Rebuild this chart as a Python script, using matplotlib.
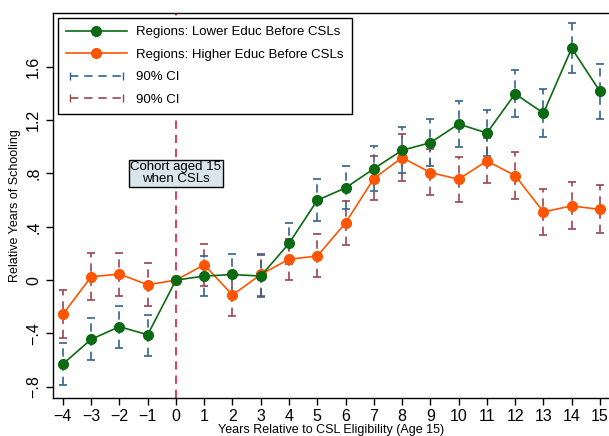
import matplotlib
matplotlib.use("Agg")
import matplotlib.pyplot as plt
from matplotlib.lines import Line2D
from matplotlib.legend_handler import HandlerLine2D
import numpy as np

plt.rcParams['font.family'] = ['Liberation Sans', 'DejaVu Sans']

years = list(range(-4, 16))

# regions with lower education before the laws
low_est = [-0.63, -0.444, -0.35, -0.41, 0.0, 0.03, 0.042, 0.03, 0.275, 0.599,
           0.692, 0.836, 0.974, 1.031, 1.171, 1.104, 1.398, 1.253, 1.740, 1.416]
low_hi = [-0.47, -0.287, -0.195, -0.262, 0.0, 0.18, 0.195, 0.19, 0.43, 0.757,
          0.856, 1.004, 1.146, 1.206, 1.343, 1.278, 1.573, 1.431, 1.927, 1.623]
low_lo = [-0.79, -0.60, -0.507, -0.567, 0.0, -0.122, -0.11, -0.13, 0.12, 0.442,
          0.53, 0.669, 0.804, 0.859, 0.999, 0.931, 1.226, 1.076, 1.556, 1.211]

# regions with higher education before the laws
high_est = [-0.257, 0.025, 0.045, -0.035, 0.0, 0.115, -0.112, 0.042, 0.157, 0.18,
            0.429, 0.762, 0.919, 0.807, 0.757, 0.894, 0.784, 0.512, 0.557, 0.53]
high_hi = [-0.075, 0.2, 0.207, 0.125, 0.0, 0.27, 0.05, 0.195, 0.31, 0.345,
           0.592, 0.931, 1.094, 0.981, 0.924, 1.066, 0.959, 0.687, 0.736, 0.712]
high_lo = [-0.437, -0.15, -0.122, -0.195, 0.0, -0.043, -0.27, -0.122, 0.0, 0.025,
           0.262, 0.599, 0.744, 0.637, 0.587, 0.729, 0.607, 0.337, 0.38, 0.35]

ytick_vals = [-0.8, -0.4, 0, 0.4, 0.8, 1.2, 1.6]
ytick_labels = ['\u2212.8', '\u2212.4', '0', '.4', '.8', '1.2', '1.6']

green = '#0b6a12'
orange = '#ff5500'
ci_blue = '#35628c'
ci_red = '#9c4450'

fig = plt.figure(figsize=(6.09, 4.36), dpi=100)
ax = fig.add_axes([0.087, 0.088, 0.913, 0.883])


def draw_ci(est, lo, hi, color):
    est = np.array(est)
    err = [est - np.array(lo), np.array(hi) - est]
    mask = np.array(years) != 0
    eb = ax.errorbar(np.array(years)[mask], est[mask],
                     yerr=[err[0][mask], err[1][mask]],
                     fmt='none', ecolor=color, elinewidth=1.2,
                     capsize=3, capthick=1.2, zorder=2)
    eb[2][0].set_linestyle((0, (5, 3.5)))


draw_ci(high_est, high_lo, high_hi, ci_red)
draw_ci(low_est, low_lo, low_hi, ci_blue)

ax.plot(years, high_est, color=orange, marker='o', markersize=7, lw=1.2, zorder=3)
ax.plot(years, low_est, color=green, marker='o', markersize=7, lw=1.2, zorder=4)

ax.axvline(0, color='#d81b45', ls=(0, (5, 3.5)), lw=1.2, zorder=1)

ax.text(0, 0.80, 'Cohort aged 15\nwhen CSLs', ha='center', va='center',
        fontsize=9.5, linespacing=1.0, zorder=5,
        bbox=dict(boxstyle='square,pad=0.12', facecolor='#d9e6ec',
                  edgecolor='black', lw=1.0))

ax.set_xlim(-4.35, 15.32)
ax.set_ylim(-0.882, 2.007)
ax.set_xticks(years)
ax.set_yticks(ytick_vals)
ax.set_yticklabels(ytick_labels, rotation=90, va='center')
ax.tick_params(axis='both', labelsize=11.5, direction='out', length=5, width=1)
ax.set_xlabel('Years Relative to CSL Eligibility (Age 15)', fontsize=9, labelpad=0)
ax.set_ylabel('Relative Years of Schooling', fontsize=9, labelpad=4)
ax.spines['right'].set_visible(False)
for s in ['left', 'bottom', 'top']:
    ax.spines[s].set_linewidth(1.0)

h_low = Line2D([], [], color=green, marker='o', markersize=7, lw=1.2)
h_high = Line2D([], [], color=orange, marker='o', markersize=7, lw=1.2)
h_ci1 = Line2D([], [], color=ci_blue, ls=(0, (5, 3.5)), lw=1.2, marker='|', markersize=6)
h_ci2 = Line2D([], [], color=ci_red, ls=(0, (5, 3.5)), lw=1.2, marker='|', markersize=6)

leg = ax.legend([h_low, h_high, h_ci1, h_ci2],
                ['Regions: Lower Educ Before CSLs', 'Regions: Higher Educ Before CSLs',
                 '90% CI', '90% CI'],
                loc='upper left', bbox_to_anchor=(0.009, 0.986), borderaxespad=0,
                fontsize=9.5, fancybox=False, framealpha=1, edgecolor='black',
                handlelength=4.6, handletextpad=0.75, labelspacing=0.78,
                borderpad=0.6,
                handler_map={h_ci1: HandlerLine2D(numpoints=2),
                             h_ci2: HandlerLine2D(numpoints=2)})
leg.get_frame().set_linewidth(1.0)

fig.savefig('out.png', dpi=100)
